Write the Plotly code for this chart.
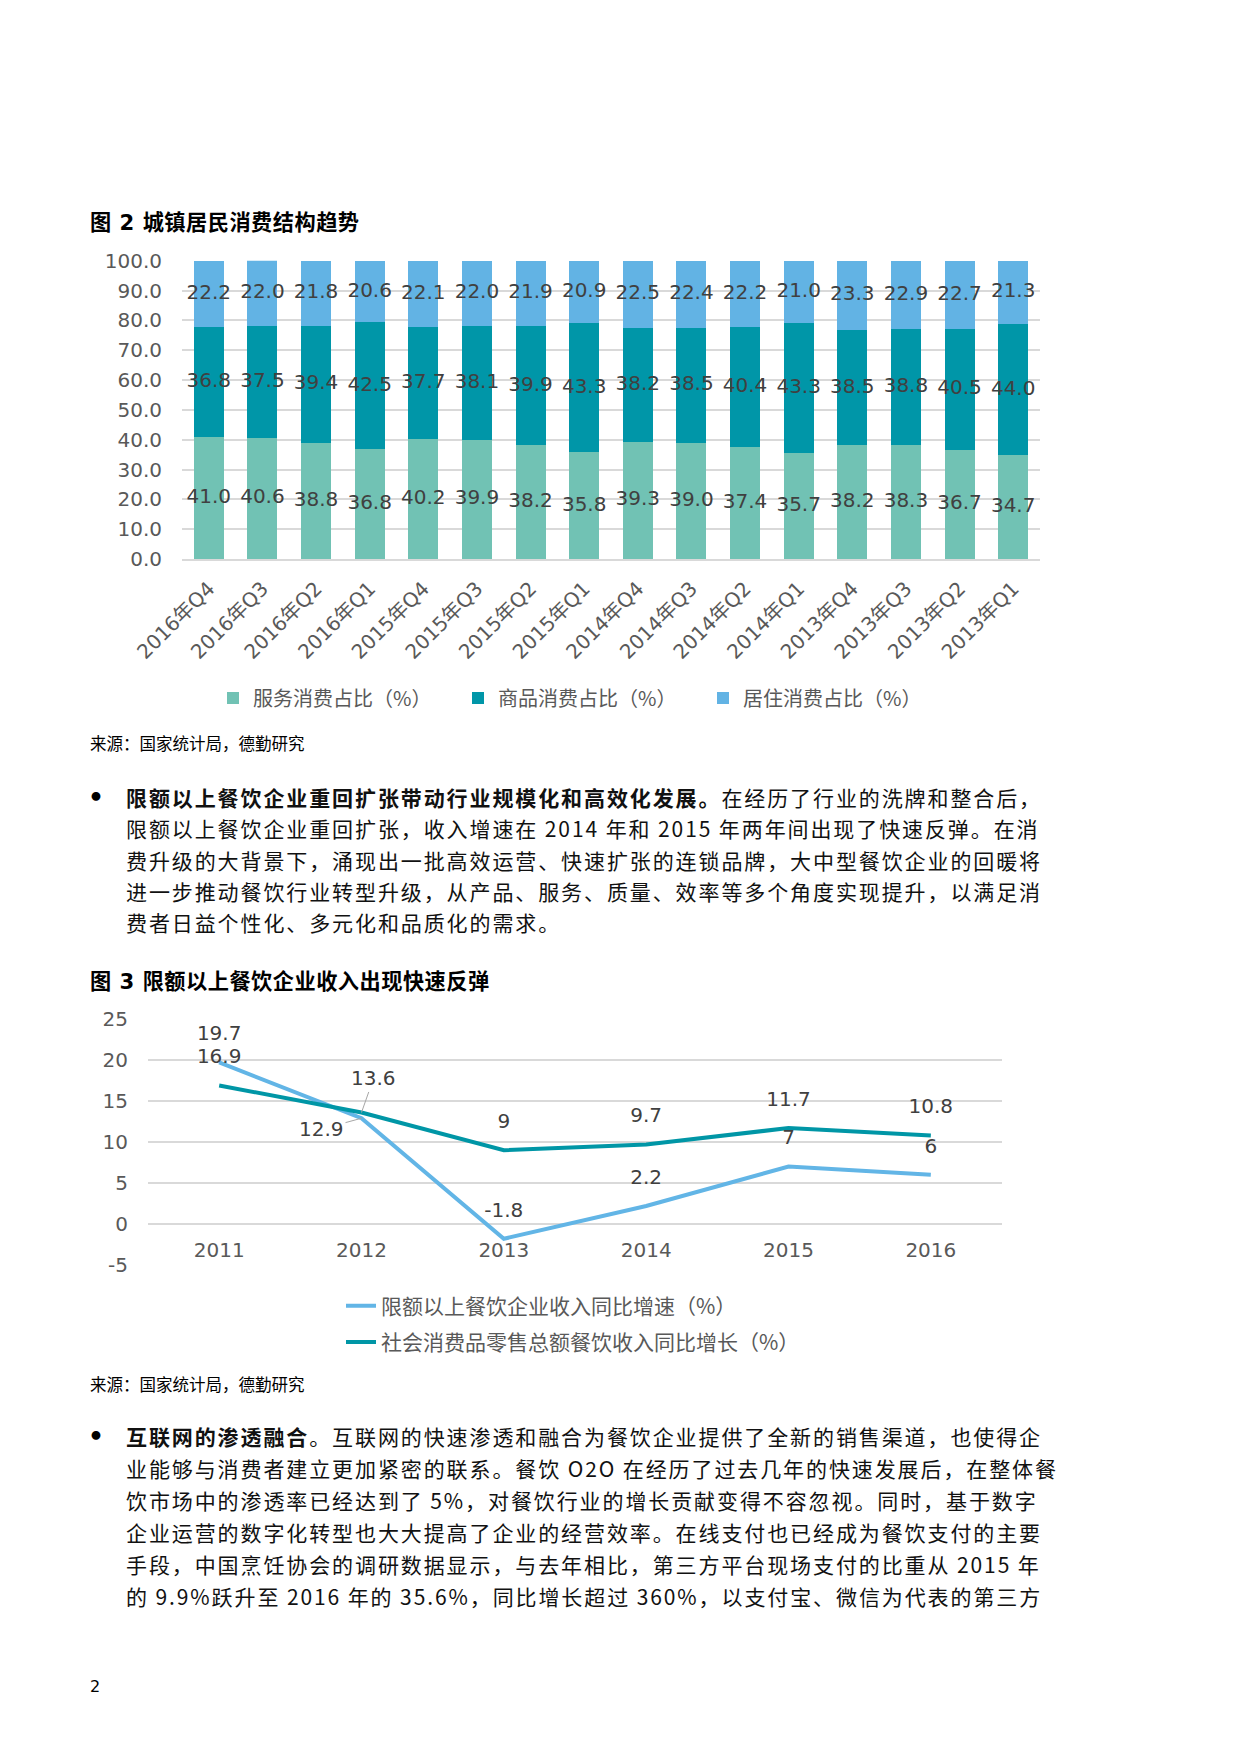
import plotly.graph_objects as go

W, H = 1240, 1754

def fx(px):
    return px / W

def fy(py):
    return 1 - py / H

# ---------------- Data: chart 2 (stacked bars) ----------------
quarters = ["2016年Q4", "2016年Q3", "2016年Q2", "2016年Q1",
            "2015年Q4", "2015年Q3", "2015年Q2", "2015年Q1",
            "2014年Q4", "2014年Q3", "2014年Q2", "2014年Q1",
            "2013年Q4", "2013年Q3", "2013年Q2", "2013年Q1"]
service = [41.0, 40.6, 38.8, 36.8, 40.2, 39.9, 38.2, 35.8,
           39.3, 39.0, 37.4, 35.7, 38.2, 38.3, 36.7, 34.7]
goods = [36.8, 37.5, 39.4, 42.5, 37.7, 38.1, 39.9, 43.3,
         38.2, 38.5, 40.4, 43.3, 38.5, 38.8, 40.5, 44.0]
housing = [22.2, 22.0, 21.8, 20.6, 22.1, 22.0, 21.9, 20.9,
           22.5, 22.4, 22.2, 21.0, 23.3, 22.9, 22.7, 21.3]
bar_names = ["服务消费占比（%）", "商品消费占比（%）", "居住消费占比（%）"]
bar_ticks = [0, 10, 20, 30, 40, 50, 60, 70, 80, 90, 100]

# ---------------- Data: chart 3 (lines) ----------------
years = ["2011", "2012", "2013", "2014", "2015", "2016"]
above_limit = [19.7, 12.9, -1.8, 2.2, 7, 6]
social_retail = [16.9, 13.6, 9, 9.7, 11.7, 10.8]
line_names = ["限额以上餐饮企业收入同比增速（%）", "社会消费品零售总额餐饮收入同比增长（%）"]
line_ticks = [-5, 0, 5, 10, 15, 20, 25]

C_SERV = "#71C2B4"
C_GOODS = "#0096A8"
C_HOUSE = "#62B3E4"
C_BLUE = "#62B5E6"
C_TEAL = "#0096A6"
GRID = "#D9D9D9"
AXTXT = "#595959"
LBL = "#404040"
FONT = "DejaVu Sans, Noto Sans CJK SC, sans-serif"
CJK = "Noto Sans CJK SC, DejaVu Sans, sans-serif"

fig = go.Figure()

# stacked bars
for vals, name, col in [(service, bar_names[0], C_SERV),
                        (goods, bar_names[1], C_GOODS),
                        (housing, bar_names[2], C_HOUSE)]:
    fig.add_trace(go.Bar(x=quarters, y=vals, name=name, marker=dict(color=col, line=dict(width=0)),
                         xaxis="x", yaxis="y", legend="legend"))

# segment labels (centered in each segment)
mid_s = [s / 2 for s in service]
mid_g = [s + g / 2 for s, g in zip(service, goods)]
mid_h = [s + g + h / 2 for s, g, h in zip(service, goods, housing)]
for mids, vals in [(mid_s, service), (mid_g, goods), (mid_h, housing)]:
    fig.add_trace(go.Scatter(x=quarters, y=mids, mode="text",
                             text=[f"{v:.1f}" for v in vals],
                             textfont=dict(family=FONT, size=20, color=LBL),
                             showlegend=False, hoverinfo="skip", cliponaxis=False,
                             xaxis="x", yaxis="y"))

# lines
fig.add_trace(go.Scatter(x=years, y=above_limit, name=line_names[0], mode="lines",
                         line=dict(color=C_BLUE, width=4),
                         cliponaxis=False, xaxis="x2", yaxis="y2",
                         legend="legend2", legendgroup="a"))
fig.add_trace(go.Scatter(x=years, y=social_retail, name=line_names[1], mode="lines",
                         line=dict(color=C_TEAL, width=4),
                         cliponaxis=False, xaxis="x2", yaxis="y2",
                         legend="legend2", legendgroup="b"))

# line point labels (above points, except the two leader-line labels at 2012)
i12 = years.index("2012")
blue_text = [f"{v:g}" for v in above_limit]
blue_text[i12] = ""
teal_text = [f"{v:g}" for v in social_retail]
teal_text[i12] = ""
for vals, texts in [(above_limit, blue_text), (social_retail, teal_text)]:
    fig.add_trace(go.Scatter(x=years, y=vals, mode="markers+text",
                             marker=dict(size=26, opacity=0, color="white"),
                             text=texts, textposition="top center",
                             textfont=dict(family=FONT, size=20, color=LBL),
                             showlegend=False, hoverinfo="skip", cliponaxis=False,
                             xaxis="x2", yaxis="y2"))

# geometry
x1dom = [fx(182), fx(1040)]
y1dom = [fy(559), fy(260.7)]
x2dom = [fx(148), fx(1002)]
y2range = [-5, 25]
y2dom = [fy(1265), fy(1019)]
zero_pos = y2dom[0] + (0 - y2range[0]) / (y2range[1] - y2range[0]) * (y2dom[1] - y2dom[0])

annotations = []

# leader-line labels at 2012
annotations.append(dict(x=i12, y=social_retail[i12], xref="x2", yref="y2",
                        text=f"{social_retail[i12]:g}", showarrow=True, arrowhead=0,
                        arrowwidth=1, arrowcolor="#A6A6A6", ax=12, ay=-34,
                        font=dict(family=FONT, size=20, color=LBL)))
annotations.append(dict(x=i12, y=above_limit[i12], xref="x2", yref="y2",
                        text=f"{above_limit[i12]:g}", showarrow=True, arrowhead=0,
                        arrowwidth=1, arrowcolor="#A6A6A6", ax=-40, ay=11,
                        font=dict(family=FONT, size=20, color=LBL)))

def txt(x, y, text, size, color="#000000", family=CJK, anchor="left"):
    annotations.append(dict(x=fx(x), y=fy(y), xref="paper", yref="paper", text=text,
                            showarrow=False, xanchor=anchor, yanchor="middle",
                            font=dict(family=family, size=size, color=color)))

def sp(s, ls):
    return f"<span style='letter-spacing:{ls}px'>{s}</span>"

txt(88, 223, sp("<b>图 2 城镇居民消费结构趋势</b>", 0.5), 21.2, family=FONT)
txt(88, 982, sp("<b>图 3 限额以上餐饮企业收入出现快速反弹</b>", 0.5), 21.2, family=FONT)
txt(88, 743, "来源：国家统计局，德勤研究", 16.5, "#000000")
txt(88, 1384, "来源：国家统计局，德勤研究", 16.5, "#000000")
txt(88, 1686, "2", 16, "#000000", family=FONT)

para1 = [
    "<b>限额以上餐饮企业重回扩张带动行业规模化和高效化发展。</b>在经历了行业的洗牌和整合后，",
    "限额以上餐饮企业重回扩张，收入增速在 2014 年和 2015 年两年间出现了快速反弹。在消",
    "费升级的大背景下，涌现出一批高效运营、快速扩张的连锁品牌，大中型餐饮企业的回暖将",
    "进一步推动餐饮行业转型升级，从产品、服务、质量、效率等多个角度实现提升，以满足消",
    "费者日益个性化、多元化和品质化的需求。",
]
para2 = [
    "<b>互联网的渗透融合</b>。互联网的快速渗透和融合为餐饮企业提供了全新的销售渠道，也使得企",
    "业能够与消费者建立更加紧密的联系。餐饮 O2O 在经历了过去几年的快速发展后，在整体餐",
    "饮市场中的渗透率已经达到了 5%，对餐饮行业的增长贡献变得不容忽视。同时，基于数字",
    "企业运营的数字化转型也大大提高了企业的经营效率。在线支付也已经成为餐饮支付的主要",
    "手段，中国烹饪协会的调研数据显示，与去年相比，第三方平台现场支付的比重从 2015 年",
    "的 9.9%跃升至 2016 年的 35.6%，同比增长超过 360%，以支付宝、微信为代表的第三方",
]
txt(86, 797, "<b>•</b>", 25, family=FONT)
for i, line in enumerate(para1):
    txt(124, 797 + 31.3 * i, sp(line, 1.9), 21, "#111111")
txt(86, 1436, "<b>•</b>", 25, family=FONT)
for i, line in enumerate(para2):
    txt(124, 1436 + 31.9 * i, sp(line, 1.9), 21, "#111111")

fig.update_layout(
    width=W, height=H,
    margin=dict(l=0, r=0, t=0, b=0, pad=0, autoexpand=False),
    paper_bgcolor="white", plot_bgcolor="white",
    barmode="stack", bargap=0.44,
    font=dict(family=FONT, color=AXTXT),
    xaxis=dict(domain=x1dom, anchor="y", type="category", tickangle=-45,
               range=[-0.5, len(quarters) - 0.5],
               tickfont=dict(family=FONT, size=20, color=AXTXT), automargin=False,
               showgrid=False, showline=True, linecolor=GRID, linewidth=2,
               ticks="", ticklabelstandoff=8, fixedrange=True),
    yaxis=dict(domain=y1dom, anchor="x", range=[0, 100], tickvals=bar_ticks,
               tickformat=".1f", tickfont=dict(family=FONT, size=20, color=AXTXT),
               automargin=False,
               showgrid=True, gridcolor=GRID, gridwidth=1.5, zeroline=False,
               showline=False, ticks="", ticklabelstandoff=19),
    xaxis2=dict(domain=x2dom, anchor="free", position=zero_pos, type="category",
                range=[-0.5, len(years) - 0.5], tickfont=dict(family=FONT, size=20, color=AXTXT),
                automargin=False,
                showgrid=False, showline=False, ticks="", ticklabelstandoff=12),
    yaxis2=dict(domain=y2dom, anchor="x2", range=y2range, tickvals=line_ticks,
                ticktext=[str(v) for v in line_ticks], automargin=False,
                tickfont=dict(family=FONT, size=20, color=AXTXT),
                showgrid=True, gridcolor=GRID, gridwidth=1.5, zeroline=False,
                showline=False, ticks="", ticklabelstandoff=19),
    legend=dict(orientation="h", x=fx(213), y=fy(698), xanchor="left", yanchor="middle",
                entrywidth=200, entrywidthmode="pixels", traceorder="normal",
                font=dict(family=CJK, size=20, color=AXTXT), bgcolor="rgba(0,0,0,0)"),
    legend2=dict(orientation="v", x=fx(341), y=fy(1324), xanchor="left", yanchor="middle",
                 tracegroupgap=6, traceorder="grouped",
                 font=dict(family=CJK, size=21, color=AXTXT), bgcolor="rgba(0,0,0,0)"),
    annotations=annotations,
    showlegend=True,
)

fig.write_html("out.html", post_script="document.body.style.margin='0';",
               config={"displayModeBar": False})
